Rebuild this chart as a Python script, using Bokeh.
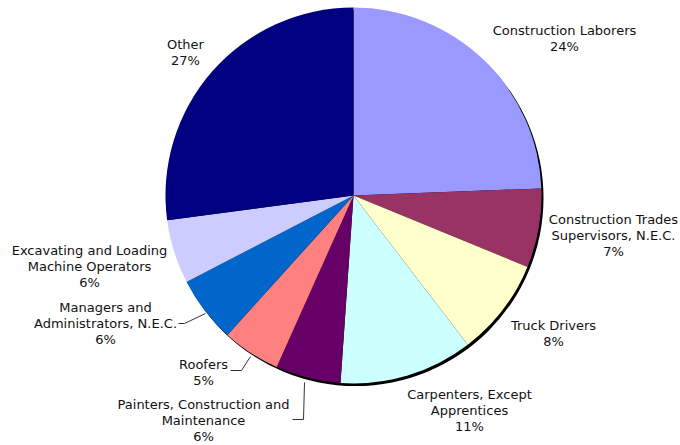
import math
from bokeh.plotting import figure
from bokeh.models import Range1d, ColumnDataSource
from bokeh.core.properties import value
from bokeh.embed import file_html
from bokeh.resources import INLINE

categories = [
    "Construction Laborers",
    "Construction Trades\nSupervisors, N.E.C.",
    "Truck Drivers",
    "Carpenters, Except\nApprentices",
    "Painters, Construction and\nMaintenance",
    "Roofers",
    "Managers and\nAdministrators, N.E.C.",
    "Excavating and Loading\nMachine Operators",
    "Other",
]
shares = [24.4, 6.8, 8.4, 11.5, 5.6, 5.0, 5.7, 5.5, 27.1]
pct_labels = ["24%", "7%", "8%", "11%", "6%", "5%", "6%", "6%", "27%"]
colors = ["#9999FF", "#993366", "#FFFFCC", "#CCFFFF", "#660066",
          "#FF8080", "#0066CC", "#CCCCFF", "#000080"]

W, H = 680, 445
def Y(y):  # screen y -> data y
    return H - y

# layout (screen px)
cx, cy, r = 353, 195, 188
label_pos = [(564, 38), (613, 235), (553, 333), (469, 410), (203, 420),
             (203, 372), (105, 323), (89, 266), (185, 52)]

p = figure(width=W, height=H, output_backend="svg", toolbar_location=None,
           x_range=Range1d(0, W), y_range=Range1d(0, H), min_border=0)
p.axis.visible = False
p.grid.visible = False
p.outline_line_color = None
p.background_fill_color = "white"

total = sum(shares)
starts, ends = [], []
cum = 0.0
for s in shares:
    a0 = math.pi / 2 - 2 * math.pi * (cum + s) / total
    a1 = math.pi / 2 - 2 * math.pi * cum / total
    starts.append(a0)
    ends.append(a1)
    cum += s

src = ColumnDataSource(dict(start=starts, end=ends, color=colors))

# shadow
p.circle(x=[cx + 2], y=[Y(cy + 2.5)], radius=r, fill_color="black", line_color=None)
p.wedge(x=cx, y=Y(cy), radius=r, start_angle="start", end_angle="end",
        fill_color="color", line_color=None, source=src)

# leader lines (screen px)
leaders = [
    ([178, 184, 205], [323, 323, 313]),
    ([230, 241, 250], [370, 370, 356]),
    ([292, 303, 304], [419, 419, 382]),
]
for xs, ys in leaders:
    p.line(xs, [Y(v) for v in ys], line_color="#333333", line_width=1)

texts = [c + "\n" + pc for c, pc in zip(categories, pct_labels)]
lsrc = ColumnDataSource(dict(x=[lp[0] for lp in label_pos],
                             y=[Y(lp[1]) for lp in label_pos], t=texts))
p.text(x="x", y="y", text="t", source=lsrc, text_align="center",
       text_baseline="middle", text_font=value("DejaVu Sans"),
       text_font_size="13px", text_color="#111111", text_line_height=1.05)

open("out.html", "w").write(file_html(p, INLINE))
